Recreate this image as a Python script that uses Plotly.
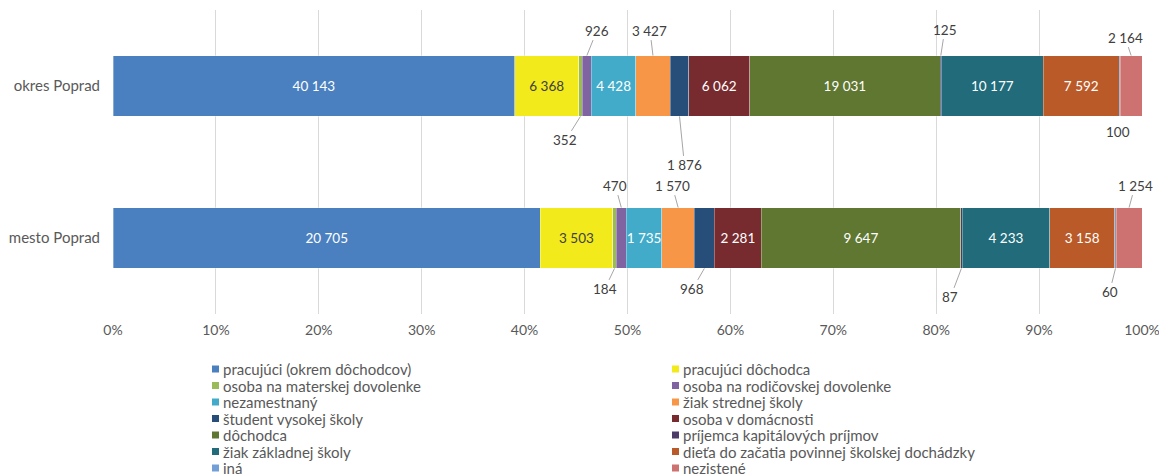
import plotly.graph_objects as go

# ---------------- data ----------------
categories = ["mesto Poprad", "okres Poprad"]
series_names = [
    "pracujúci (okrem dôchodcov)",
    "pracujúci dôchodca",
    "osoba na materskej dovolenke",
    "osoba na rodičovskej dovolenke",
    "nezamestnaný",
    "žiak strednej školy",
    "študent vysokej školy",
    "osoba v domácnosti",
    "dôchodca",
    "príjemca kapitálových príjmov",
    "žiak základnej školy",
    "dieťa do začatia povinnej školskej dochádzky",
    "iná",
    "nezistené",
]
okres_values = [40143, 6368, 352, 926, 4428, 3427, 1876, 6062, 19031, 125, 10177, 7592, 100, 2164]
mesto_values = [20705, 3503, 184, 470, 1735, 1570, 968, 2281, 9647, 87, 4233, 3158, 60, 1254]
x_tick_values = [0, 10, 20, 30, 40, 50, 60, 70, 80, 90, 100]
x_tick_labels = ["0%", "10%", "20%", "30%", "40%", "50%", "60%", "70%", "80%", "90%", "100%"]

# ---------------- styling ----------------
colors = ["#4a80c0", "#f2ea1b", "#9bbb59", "#8064a2", "#41abc9", "#f79646", "#264e79",
          "#772b2e", "#607732", "#4b3b66", "#216b7b", "#b95a28", "#729fd6", "#cd7171"]
inside_label = [True, True, False, False, True, False, False, True, True, False, True, True, False, False]
dark_text = [False, True] + [False] * 12
# outside label offsets (pixels): (ax, ay, edge)
outside_okres = {2: (-15, 24, "b"), 3: (10, -25, "t"), 5: (-3, -25, "t"), 6: (5, 49, "b"),
                 9: (4, -26, "t"), 12: (-2, 16, "b"), 13: (-6, -18, "t")}
outside_mesto = {2: (-10, 21, "b"), 3: (-6, -22, "t"), 5: (-6, -22, "t"), 6: (-12, 21, "b"),
                 9: (-11, 29, "b"), 12: (-6, 24, "b"), 13: (6, -22, "t")}
no_line = {("okres", 12)}

FONT = "Lato, 'Open Sans', sans-serif"
L, R, T, B = 113, 17, 10, 160
W, H = 1159, 474
PW, PH = W - L - R, H - T - B
BARGAP = 0.6
HALF = (1 - BARGAP) / 2


def fmt(v):
    return f"{v:,}".replace(",", " ")


fig = go.Figure()
for i, name in enumerate(series_names):
    vals = [mesto_values[i], okres_values[i]]
    txt = [fmt(v) if inside_label[i] else "" for v in vals]
    fig.add_trace(go.Bar(
        y=categories, x=vals, orientation="h", name=name,
        marker=dict(color=colors[i], line=dict(color="rgba(255,255,255,0.55)", width=0.6)),
        text=txt, textposition="inside", insidetextanchor="middle", textangle=0,
        textfont=dict(family=FONT, size=13.5, color="#404040" if dark_text[i] else "#ffffff"),
        showlegend=False, hoverinfo="name+x",
    ))

annotations = []
for cat_idx, (key, vals, outs) in enumerate([("mesto", mesto_values, outside_mesto),
                                             ("okres", okres_values, outside_okres)]):
    total = sum(vals)
    cum = 0
    for i, v in enumerate(vals):
        mid = (cum + v / 2) / total * 100
        cum += v
        if i in outs:
            ax, ay, edge = outs[i]
            yv = cat_idx + HALF if edge == "t" else cat_idx - HALF
            annotations.append(dict(
                x=mid, y=yv, xref="x", yref="y", text=fmt(v), showarrow=True,
                ax=ax, ay=ay, arrowhead=0, arrowwidth=1,
                arrowcolor="rgba(0,0,0,0)" if (key, i) in no_line else "#a6a6a6",
                standoff=0, startstandoff=0,
                font=dict(family=FONT, size=13.5, color="#404040"),
            ))

# manual legend, two columns, row-major order
shapes = []
col_x = [212, 672]
row_y0, row_dy = 369, 16.5
for i, name in enumerate(series_names):
    col, row = i % 2, i // 2
    xm = col_x[col]
    ym = row_y0 + row * row_dy
    shapes.append(dict(type="rect", xref="paper", yref="paper",
                       x0=(xm - L) / PW, x1=(xm + 7 - L) / PW,
                       y0=(H - B - (ym + 3.5)) / PH, y1=(H - B - (ym - 3.5)) / PH,
                       fillcolor=colors[i], line=dict(width=0)))
    annotations.append(dict(x=(xm + 9 - L) / PW, y=(H - B - ym) / PH, xref="paper", yref="paper",
                            text=name, showarrow=False, xanchor="left", yanchor="middle",
                            font=dict(family=FONT, size=15, color="#595959")))

fig.update_layout(
    width=W, height=H, autosize=False, barmode="stack", barnorm="percent", bargap=BARGAP,
    margin=dict(l=L, r=R, t=T, b=B, autoexpand=False),
    paper_bgcolor="white", plot_bgcolor="white",
    font=dict(family=FONT, size=13, color="#595959"),
    xaxis=dict(range=[0, 100], tickvals=x_tick_values, ticktext=x_tick_labels,
               showgrid=True, gridcolor="#d9d9d9", gridwidth=1, zeroline=False,
               showline=False, ticks="", ticklabelstandoff=6, ticklabeloverflow="allow",
               automargin=False,
               tickfont=dict(family=FONT, size=14, color="#595959")),
    yaxis=dict(showgrid=False, zeroline=False, showline=False, ticks="", automargin=False,
               ticklabelstandoff=12, tickfont=dict(family=FONT, size=15, color="#595959")),
    uniformtext=dict(minsize=12, mode="show"),
    annotations=annotations, shapes=shapes,
    showlegend=False,
)

fig.write_html("out.html", config={"displayModeBar": False},
               post_script="document.body.style.margin='0';document.body.style.overflow='hidden';")
